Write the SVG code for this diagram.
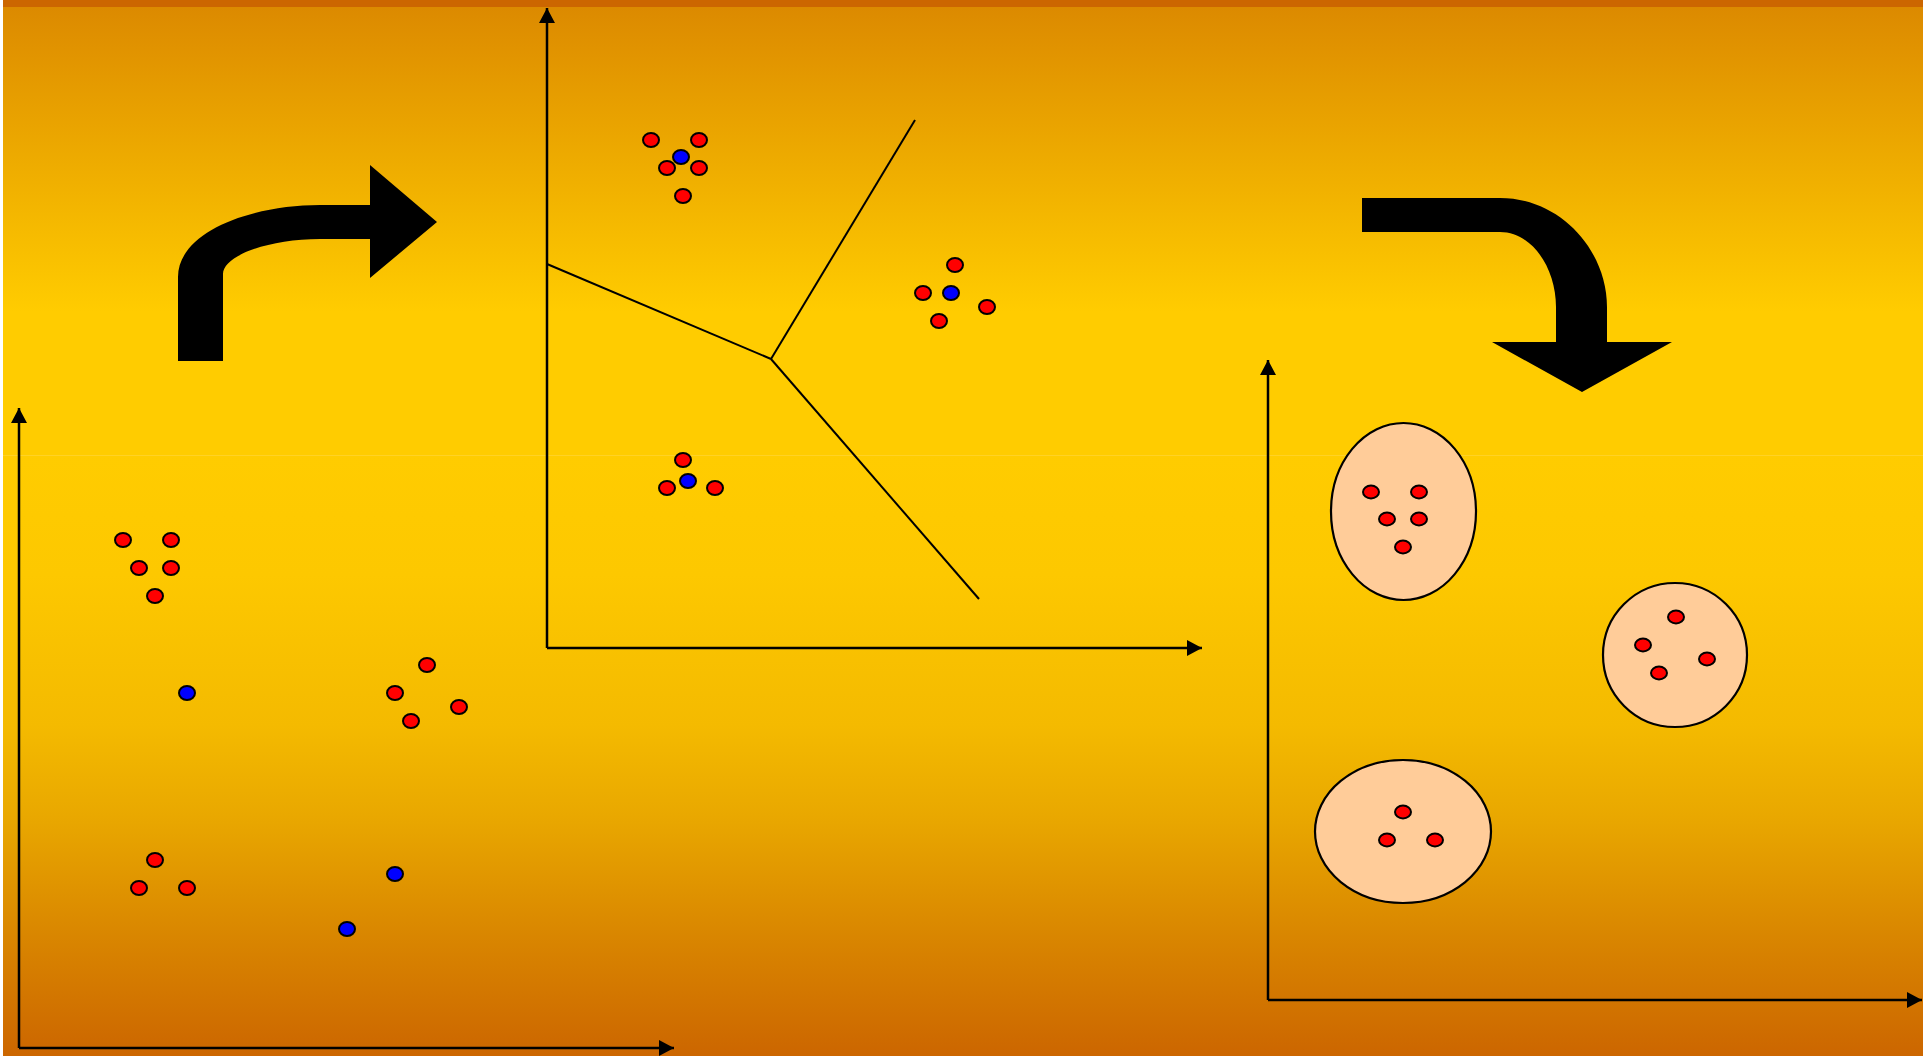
<svg xmlns="http://www.w3.org/2000/svg" width="1925" height="1056" viewBox="0 0 1925 1056">
<style>
.r{fill:#FF0000;stroke:#000;stroke-width:2}
.b{fill:#0000FF;stroke:#000;stroke-width:2}
.ax{stroke:#000;stroke-width:2.5;fill:none}
.ln{stroke:#000;stroke-width:2;fill:none}
.cl{fill:#FFCC99;stroke:#000;stroke-width:2.2}
.big{fill:#000;stroke:none}
</style>
<defs>
<linearGradient id="gTop" x1="0" y1="0" x2="0" y2="1">
<stop offset="0" stop-color="#DC8A00"/>
<stop offset="0.68" stop-color="#FFCC00"/>
<stop offset="1" stop-color="#FFCC00"/>
</linearGradient>
<linearGradient id="gBot" x1="0" y1="0" x2="0" y2="1">
<stop offset="0" stop-color="#FFCC00"/>
<stop offset="0.2" stop-color="#FDC800"/>
<stop offset="0.45" stop-color="#F4BA00"/>
<stop offset="0.6" stop-color="#E9A800"/>
<stop offset="0.8" stop-color="#D98600"/>
<stop offset="1" stop-color="#CC6600"/>
</linearGradient>
<marker id="ah" viewBox="0 0 15 16" refX="15" refY="8" markerWidth="15" markerHeight="16" markerUnits="userSpaceOnUse" orient="auto">
<path d="M0,0 L15,8 L0,16 Z" fill="#000"/>
</marker>
</defs>
<rect x="0" y="0" width="1925" height="1056" fill="#FFFFFF"/>
<rect x="3" y="7" width="1920" height="448" fill="url(#gTop)"/>
<rect x="3" y="455" width="1920" height="601" fill="url(#gBot)"/>
<rect x="3" y="455" width="1920" height="1" fill="#FFD84A" opacity="0.5"/>
<rect x="3" y="0" width="1920" height="7" fill="#CC6600"/>

<g id="connectors">
<line class="ax" x1="19" y1="1048" x2="19" y2="408" marker-end="url(#ah)"/>
<line class="ax" x1="19" y1="1048" x2="674" y2="1048" marker-end="url(#ah)"/>
<line class="ax" x1="547" y1="648" x2="547" y2="8" marker-end="url(#ah)"/>
<line class="ax" x1="547" y1="648" x2="1202" y2="648" marker-end="url(#ah)"/>
<line class="ax" x1="1268" y1="1000" x2="1268" y2="360" marker-end="url(#ah)"/>
<line class="ax" x1="1268" y1="1000" x2="1922" y2="1000" marker-end="url(#ah)"/>
<line class="ln" x1="547" y1="264" x2="771" y2="359"/>
<line class="ln" x1="771" y1="359" x2="915" y2="120"/>
<line class="ln" x1="771" y1="359" x2="979" y2="599"/>
</g>

<g id="arrow-right-turn">
<path class="big" d="M178,361 L178,277 C178,232 250,205 320,205 L370,205 L370,165 L437,222 L370,278 L370,239 L320,239 C268,239 223,256 223,274 L223,361 Z"/>
</g>
<g id="arrow-down-turn">
<path class="big" d="M1362,198 L1500,198 C1560,198 1607,250 1607,307 L1607,342 L1672,342 L1582,392 L1492,342 L1556,342 L1556,307 C1556,268 1532,232 1500,232 L1362,232 Z"/>
</g>

<g id="raw-points">
<ellipse class="r" cx="123" cy="540" rx="8" ry="7"/>
<ellipse class="r" cx="171" cy="540" rx="8" ry="7"/>
<ellipse class="r" cx="139" cy="568" rx="8" ry="7"/>
<ellipse class="r" cx="171" cy="568" rx="8" ry="7"/>
<ellipse class="r" cx="155" cy="596" rx="8" ry="7"/>
<ellipse class="b" cx="187" cy="693" rx="8" ry="7"/>
<ellipse class="r" cx="427" cy="665" rx="8" ry="7"/>
<ellipse class="r" cx="395" cy="693" rx="8" ry="7"/>
<ellipse class="r" cx="459" cy="707" rx="8" ry="7"/>
<ellipse class="r" cx="411" cy="721" rx="8" ry="7"/>
<ellipse class="r" cx="155" cy="860" rx="8" ry="7"/>
<ellipse class="r" cx="139" cy="888" rx="8" ry="7"/>
<ellipse class="r" cx="187" cy="888" rx="8" ry="7"/>
<ellipse class="b" cx="395" cy="874" rx="8" ry="7"/>
<ellipse class="b" cx="347" cy="929" rx="8" ry="7"/>
</g>

<g id="voronoi-points">
<ellipse class="r" cx="651" cy="140" rx="8" ry="7"/>
<ellipse class="r" cx="699" cy="140" rx="8" ry="7"/>
<ellipse class="r" cx="667" cy="168" rx="8" ry="7"/>
<ellipse class="r" cx="699" cy="168" rx="8" ry="7"/>
<ellipse class="b" cx="681" cy="157" rx="8" ry="7"/>
<ellipse class="r" cx="683" cy="196" rx="8" ry="7"/>
<ellipse class="r" cx="955" cy="265" rx="8" ry="7"/>
<ellipse class="r" cx="923" cy="293" rx="8" ry="7"/>
<ellipse class="b" cx="951" cy="293" rx="8" ry="7"/>
<ellipse class="r" cx="987" cy="307" rx="8" ry="7"/>
<ellipse class="r" cx="939" cy="321" rx="8" ry="7"/>
<ellipse class="r" cx="683" cy="460" rx="8" ry="7"/>
<ellipse class="r" cx="667" cy="488" rx="8" ry="7"/>
<ellipse class="r" cx="715" cy="488" rx="8" ry="7"/>
<ellipse class="b" cx="688" cy="481" rx="8" ry="7"/>
</g>

<g id="cluster-1">
<ellipse class="cl" cx="1403.5" cy="511.5" rx="72.5" ry="88.5"/>
<ellipse class="r" cx="1371" cy="492" rx="8" ry="6.5"/>
<ellipse class="r" cx="1419" cy="492" rx="8" ry="6.5"/>
<ellipse class="r" cx="1387" cy="519" rx="8" ry="6.5"/>
<ellipse class="r" cx="1419" cy="519" rx="8" ry="6.5"/>
<ellipse class="r" cx="1403" cy="547" rx="8" ry="6.5"/>
</g>
<g id="cluster-2">
<circle class="cl" cx="1675" cy="655" r="72"/>
<ellipse class="r" cx="1676" cy="617" rx="8" ry="6.5"/>
<ellipse class="r" cx="1643" cy="645" rx="8" ry="6.5"/>
<ellipse class="r" cx="1707" cy="659" rx="8" ry="6.5"/>
<ellipse class="r" cx="1659" cy="673" rx="8" ry="6.5"/>
</g>
<g id="cluster-3">
<ellipse class="cl" cx="1403" cy="831.5" rx="88" ry="71.5"/>
<ellipse class="r" cx="1403" cy="812" rx="8" ry="6.5"/>
<ellipse class="r" cx="1387" cy="840" rx="8" ry="6.5"/>
<ellipse class="r" cx="1435" cy="840" rx="8" ry="6.5"/>
</g>
</svg>
